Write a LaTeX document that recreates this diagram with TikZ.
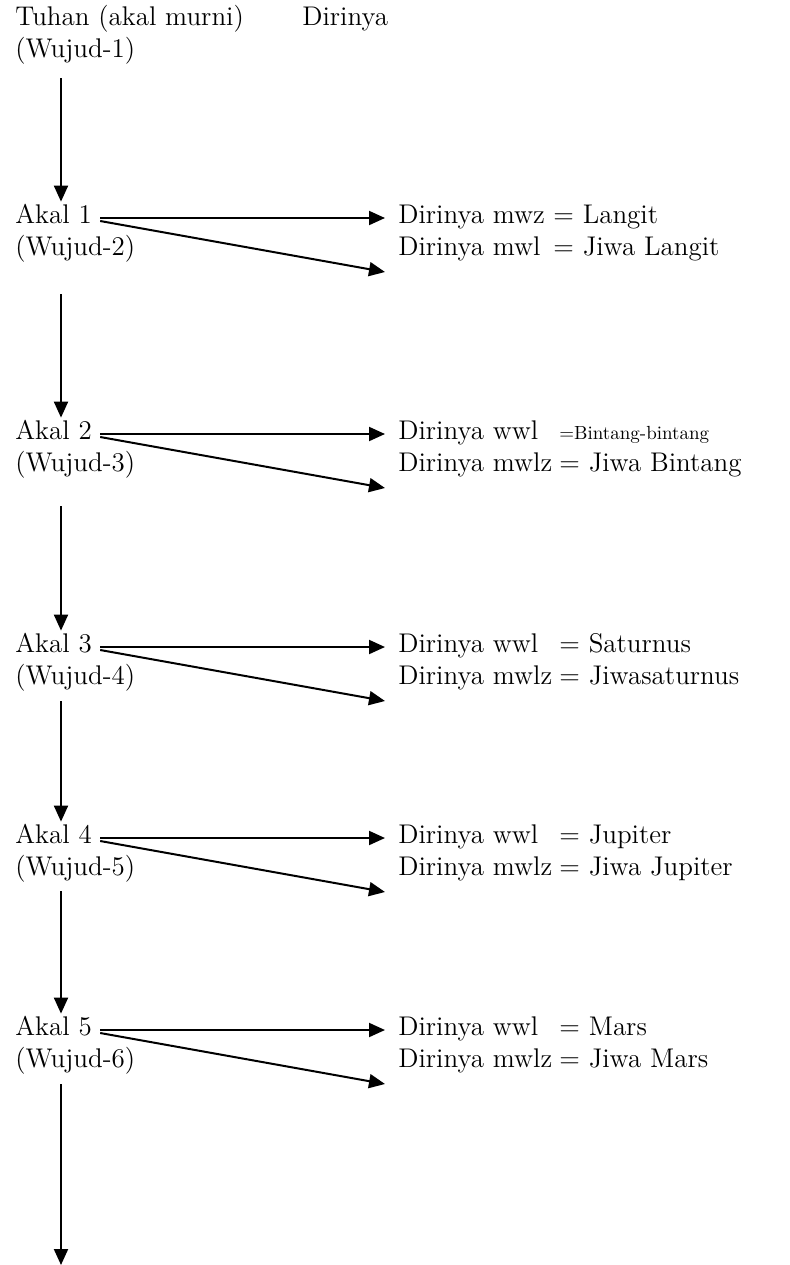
\documentclass[tikz,border=0pt]{standalone}
\usetikzlibrary{arrows.meta}

\tikzset{
    lbl/.style={anchor=west, inner sep=0pt, text height=0.75em, text depth=0.25em,
        font=\fontsize{13.5}{16}\selectfont},
    lblsmall/.style={lbl, font=\fontsize{9.5}{11}\selectfont},
    flow/.style={-{Triangle[width=7pt,length=8pt]}, line width=1pt}
}

\begin{document}
\begin{tikzpicture}[x=0.5pt, y=-0.5pt]
    \useasboundingbox (0,0) rectangle (789,1265);

    % top line
    \node[lbl] (tuhan) at (15,20) {Tuhan (akal murni)};
    \node[lbl] (dirinya) at (302,20) {Dirinya};
    \node[lbl] (wujud1) at (15,52) {(Wujud-1)};

    % the five akal rows
    \foreach \i/\y/\ra/\ea/\rb/\eb/\ex in {%
        1/218/{Dirinya mwz}/{= Langit}/{Dirinya mwl}/{= Jiwa Langit}/553,
        2/434/{Dirinya wwl}/{}/{Dirinya mwlz}/{= Jiwa Bintang}/559,
        3/647/{Dirinya wwl}/{= Saturnus}/{Dirinya mwlz}/{= Jiwasaturnus}/559,
        4/838/{Dirinya wwl}/{= Jupiter}/{Dirinya mwlz}/{= Jiwa Jupiter}/559,
        5/1030/{Dirinya wwl}/{= Mars}/{Dirinya mwlz}/{= Jiwa Mars}/559} {
        \pgfmathtruncatemacro{\j}{\i+1}
        \node[lbl] (akal\i) at (15,\y) {Akal \i};
        \node[lbl] (wujud\j) at (15,\y+32) {(Wujud-\j)};
        \node[lbl] (ra\i) at (398,\y) {\ra};
        \node[lbl] (rb\i) at (398,\y+32) {\rb};
        \node[lbl] (ea\i) at (\ex,\y) {\ea};
        \node[lbl] (eb\i) at (\ex,\y+32) {\eb};

        \draw[flow] ([xshift=4pt]akal\i.east) -- ([xshift=-6.5pt]ra\i.west);
        \draw[flow] ([xshift=4pt,yshift=-1.5pt]akal\i.east)
            -- ([xshift=-6.5pt,yshift=-11pt]rb\i.west);
    }
    \node[lblsmall] (ea2b) at (559,434) {=Bintang-bintang};

    % downward chain
    \foreach \a/\gap in {1/8,2/17,3/15,4/6,5/5.5} {
        \draw[flow] ([xshift=23pt,yshift=-\gap pt]wujud\a.south west)
            -- ([xshift=23pt,yshift=3pt]akal\a.north west);
    }
    \coordinate (bottom) at (61,1265);
    \draw[flow] ([xshift=23pt,yshift=-6pt]wujud6.south west) -- (bottom);
\end{tikzpicture}
\end{document}
